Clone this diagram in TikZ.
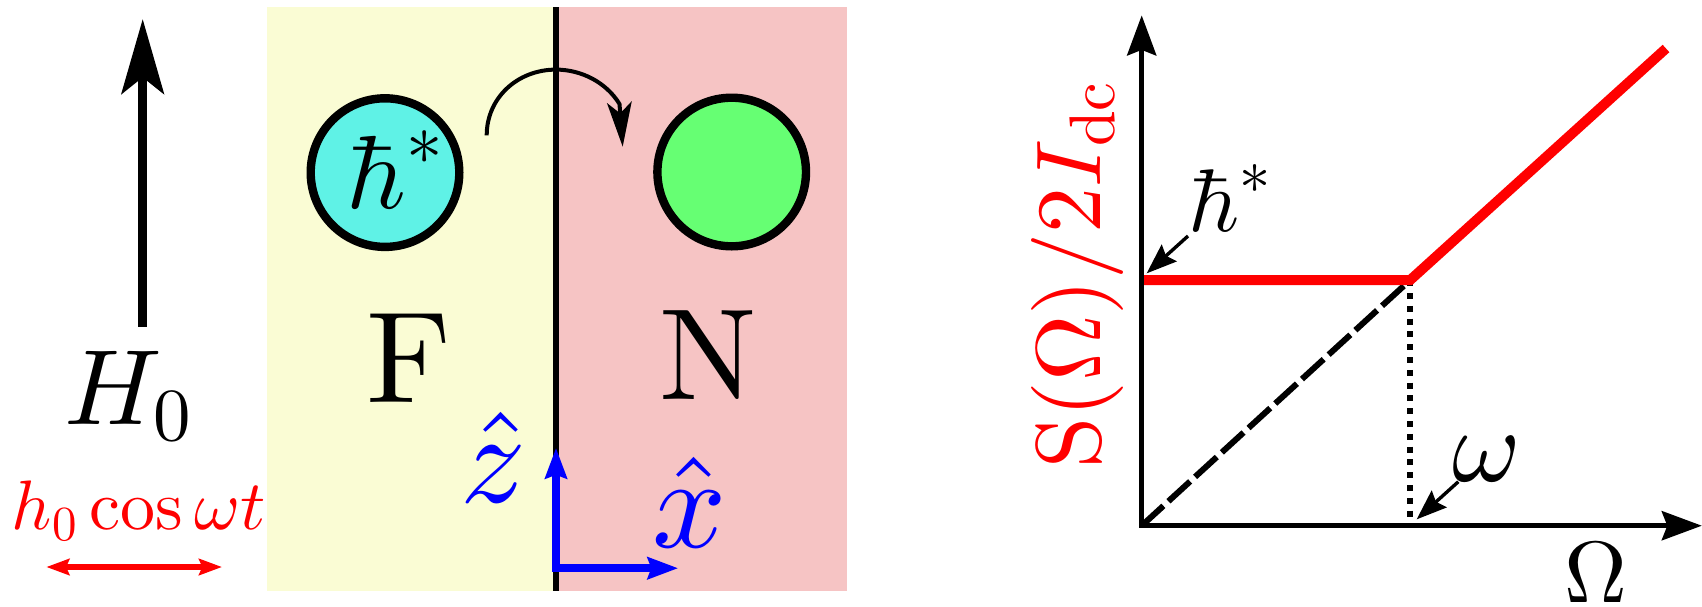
\documentclass[tikz,border=0pt]{standalone}
\usetikzlibrary{arrows.meta}
\DeclareFontShape{OT1}{cmr}{m}{n}{<->cmr10}{}
\DeclareFontShape{OML}{cmm}{m}{it}{<->cmmi10}{}
\DeclareFontShape{OMS}{cmsy}{m}{n}{<->cmsy10}{}
\DeclareFontShape{OMX}{cmex}{m}{n}{<->cmex10}{}
\definecolor{fyellow}{RGB}{250,252,212}
\definecolor{npink}{RGB}{246,196,196}
\definecolor{dotcyan}{RGB}{95,242,230}
\definecolor{dotgreen}{RGB}{102,255,115}
\newcommand{\fsz}[1]{\fontsize{#1}{#1}\selectfont}
\begin{document}
\begin{tikzpicture}[x=0.5pt,y=-0.5pt,
  lbl/.style={anchor=base,inner sep=0pt,outer sep=0pt},
  dotball/.style={circle,draw=black,line width=4.2pt,minimum size=74.3pt,inner sep=0pt,outer sep=0pt},
  fieldarrow/.style={line width=4.3pt,-{Stealth[length=37.7pt,width=21.7pt,inset=8.7pt,line width=0pt]}},
  acarrow/.style={red,line width=2.7pt,{Stealth[length=11.7pt,width=8.7pt,inset=2pt,line width=0pt]}-{Stealth[length=11.7pt,width=8.7pt,inset=2pt,line width=0pt]}},
  tunnelarrow/.style={line width=2pt,-{Stealth[length=22.4pt,width=12.5pt,inset=5.7pt,line width=0pt]}},
  frame/.style={blue,line width=4pt,{Stealth[length=15.5pt,width=11.7pt,inset=2.3pt,line width=0pt]}-{Stealth[length=15.5pt,width=11.7pt,inset=2.3pt,line width=0pt]}},
  graphaxis/.style={line width=2.7pt,{Stealth[length=20.2pt,width=15pt,inset=3pt,line width=0pt]}-{Stealth[length=20.2pt,width=15pt,inset=3pt,line width=0pt]}},
  pointer/.style={line width=1.7pt,-{Stealth[length=15.3pt,width=11.5pt,inset=2.3pt,line width=0pt]}},
]
\useasboundingbox (0,0) rectangle (1702,606);

% ---- left: field
\coordinate (Hbot) at (142.7,326.6);
\coordinate (Htip) at (142.7,19.3);
\draw[fieldarrow] (Hbot) -- (Htip);
\node[lbl,font=\fsz{53.5pt}] (H0) at (128,424) {$H_0$};
\node[lbl,font=\fsz{35pt},text=red] (aclab) at (139,529.6) {$h_0\cos\omega t$};
\coordinate (acL) at (46.7,567);
\coordinate (acR) at (221.7,567);
\draw[acarrow] (acL) -- (acR);

% ---- middle: F / N
\fill[fyellow] (266.7,7) rectangle (556,591.4);
\fill[npink] (556,7) rectangle (846.7,591.4);
\coordinate (bTop) at (556,7);
\coordinate (bBot) at (556,591.4);
\draw[line width=3.3pt] (bTop) -- (bBot);

\node[dotball,fill=dotcyan] (fball) at (385,172.6) {};
\node[lbl,font=\fsz{52pt}] (hstar) at (395,208.7) {$\hbar^*$};
\node[dotball,fill=dotgreen] (nball) at (731.7,172) {};

\node[lbl,font=\fsz{65pt}] (Flab) at (409,402) {$\mathrm{F}$};
\node[lbl,font=\fsz{65pt}] (Nlab) at (708,399) {$\mathrm{N}$};

\coordinate (tunS) at (486.7,135.3);
\coordinate (tunTop) at (556,69.6);
\coordinate (tunK) at (619.5,104);
\coordinate (tunE) at (622.7,146.7);
\draw[tunnelarrow] (tunS) .. controls (486.7,98) and (517.3,69.6) .. (tunTop)
  .. controls (581,69.6) and (606,82) .. (tunK) -- (tunE);

\coordinate (zTip) at (556,448.4);
\coordinate (orig) at (556,568.2);
\coordinate (xTip) at (677.7,568.2);
\draw[frame] (zTip) -- (orig) -- (xTip);
\node[lbl,font=\fsz{65pt},text=blue] (zlab) at (494,502) {$\hat{z}$};
\node[lbl,font=\fsz{65pt},text=blue] (xlab) at (690,547) {$\hat{x}$};

% ---- right: graph
\coordinate (gO) at (1141.7,525.7);
\coordinate (gY) at (1141.7,15.5);
\coordinate (gX) at (1701.7,525.7);
\coordinate (gH) at (1141.7,280.2);
\coordinate (gC) at (1410,280.2);
\coordinate (gCb) at (1410,525.7);
\coordinate (gEnd) at (1666,48.5);

\draw[line width=3pt,dash pattern=on 14.7pt off 3.4pt] (gO) -- (gC);
\draw[line width=3pt,dash pattern=on 3pt off 3.4pt] (gC) -- (gCb);
\draw[red,line width=5pt] (gH) -- (gC) -- (gEnd);
\draw[graphaxis] (gY) -- (gO) -- (gX);

\node[lbl,rotate=90,text=red,font=\fsz{46pt}] (ylab) at (1100.5,275) {$\mathrm{S}(\Omega)/2I_{\mathrm{dc}}$};
\node[lbl,font=\fsz{43.5pt}] (Olab) at (1596,602) {$\Omega$};

\node[lbl,font=\fsz{44.5pt}] (hgraph) at (1230,231.7) {$\hbar^*$};
\coordinate (hpS) at (1188,236);
\coordinate (hpE) at (1146.7,273.3);
\draw[pointer] (hpS) -- (hpE);

\node[lbl,font=\fsz{52pt}] (wlab) at (1486.5,481) {$\omega$};
\coordinate (wpS) at (1458.3,481.7);
\coordinate (wpE) at (1416.7,519.3);
\draw[pointer] (wpS) -- (wpE);
\end{tikzpicture}
\end{document}
